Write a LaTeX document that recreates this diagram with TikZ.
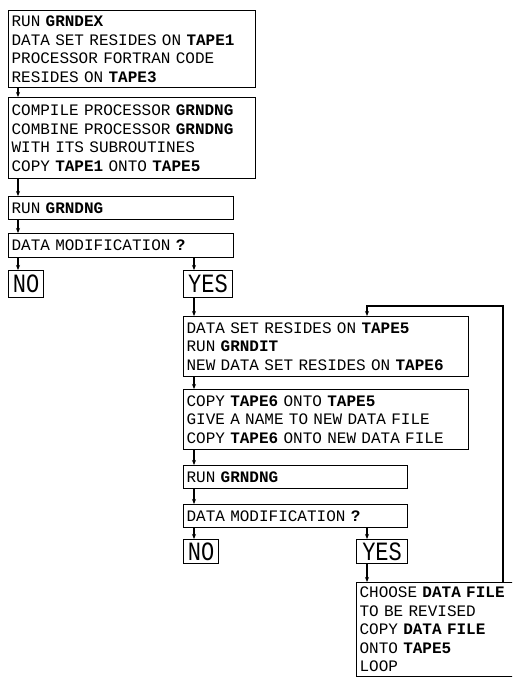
\documentclass[tikz,border=0pt]{standalone}
\usepackage{fontspec}
\usepackage{graphicx}
\setmonofont{Liberation Mono}
\usetikzlibrary{arrows.meta}
\tikzset{
  box/.style={draw, line width=1.1pt, anchor=north west, inner xsep=3pt, inner ysep=0pt,
    align=left, font=\ttfamily\fontsize{16}{18.5}\selectfont},
  ans/.style={draw, line width=1.1pt, anchor=north west, inner sep=0pt, align=center,
    font=\ttfamily\fontsize{22}{22}\selectfont},
  arr/.style={line width=1.1pt, -{Stealth[length=5pt,width=4pt]}},
}
\newcommand{\bw}[1]{\textbf{#1}}
\newcommand{\tallans}[1]{\scalebox{1}[1.2]{#1}}
\begin{document}
\begin{tikzpicture}[x=1pt,y=-1pt]
\useasboundingbox (0,0) rectangle (512,680);
\fill[white] (0,0) rectangle (512,680);
\clip (0,0) rectangle (512,680);
\coordinate (cL) at (18,0);
\coordinate (cR) at (194,0);
\coordinate (cY) at (367,0);
\coordinate (lp) at (503,306);

\node[box, minimum width=247, text width=241, minimum height=77] (b1) at (8,10)
  {RUN \bw{GRNDEX}\\DATA SET RESIDES ON \bw{TAPE1}\\PROCESSOR FORTRAN CODE\\RESIDES ON \bw{TAPE3}};
\node[box, minimum width=247, text width=241, minimum height=81] (b2) at (8,97)
  {COMPILE PROCESSOR \bw{GRNDNG}\\COMBINE PROCESSOR \bw{GRNDNG}\\WITH ITS SUBROUTINES\\COPY \bw{TAPE1} ONTO \bw{TAPE5}};
\node[box, minimum width=225, text width=219, minimum height=23] (b3) at (8,196)
  {RUN \bw{GRNDNG}};
\node[box, minimum width=225, text width=219, minimum height=24] (b4) at (8,233)
  {DATA MODIFICATION \bw{?}};
\node[ans, minimum width=35, minimum height=27] (no1) at (8,270) {\tallans{NO}};
\node[ans, minimum width=49, minimum height=27] (yes1) at (183,270) {\tallans{YES}};

\node[box, minimum width=285, text width=279, minimum height=60] (b5) at (183,316)
  {DATA SET RESIDES ON \bw{TAPE5}\\RUN \bw{GRNDIT}\\NEW DATA SET RESIDES ON \bw{TAPE6}};
\node[box, minimum width=285, text width=279, minimum height=60] (b6) at (183,389)
  {COPY \bw{TAPE6} ONTO \bw{TAPE5}\\GIVE A NAME TO NEW DATA FILE\\COPY \bw{TAPE6} ONTO NEW DATA FILE};
\node[box, minimum width=224, text width=218, minimum height=23] (b7) at (183,465)
  {RUN \bw{GRNDNG}};
\node[box, minimum width=224, text width=218, minimum height=23] (b8) at (183,504)
  {DATA MODIFICATION \bw{?}};
\node[ans, minimum width=35, minimum height=24] (no2) at (183,539) {\tallans{NO}};
\node[ans, minimum width=51, minimum height=24] (yes2) at (356,539) {\tallans{YES}};
\node[box, minimum width=170, text width=164, minimum height=94] (b9) at (356,582)
  {CHOOSE \bw{DATA FILE}\\TO BE REVISED\\COPY \bw{DATA FILE}\\ONTO \bw{TAPE5}\\LOOP};

\draw[arr] (b1.south -| cL) -- (b2.north -| cL);
\draw[arr] (b2.south -| cL) -- (b3.north -| cL);
\draw[arr] (b3.south -| cL) -- (b4.north -| cL);
\draw[arr] (b4.south -| cL) -- (no1.north -| cL);
\draw[arr] (b4.south -| cR) -- (yes1.north -| cR);
\draw[arr] (yes1.south -| cR) -- (b5.north -| cR);
\draw[arr] (b5.south -| cR) -- (b6.north -| cR);
\draw[arr] (b6.south -| cR) -- (b7.north -| cR);
\draw[arr] (b7.south -| cR) -- (b8.north -| cR);
\draw[arr] (b8.south -| cR) -- (no2.north -| cR);
\draw[arr] (b8.south -| cY) -- (yes2.north -| cY);
\draw[arr] (yes2.south -| cY) -- (b9.north -| cY);
\draw[arr] (b9.north -| lp) -- (lp) -| (b5.north -| cY);
\end{tikzpicture}
\end{document}
